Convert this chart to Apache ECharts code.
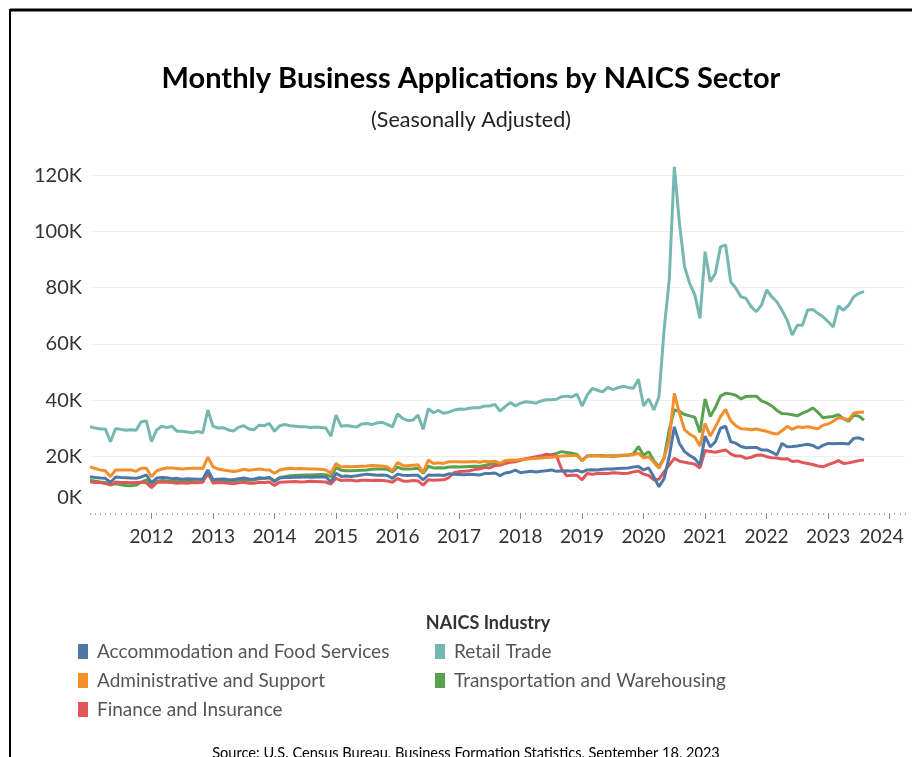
<!DOCTYPE html>
<html>
<head>
<meta charset="utf-8">
<script src="https://cdn.jsdelivr.net/npm/echarts@6/dist/echarts.min.js"></script>
<style>
  html, body { margin: 0; padding: 0; background: #fff; }
  #chart { width: 912px; height: 757px; }
</style>
</head>
<body>
<div id="chart"></div>
<script>
// monthly values, thousands of applications, Jan 2011 .. Aug 2023
const startYear = 2011;
const yearTicks = [2012, 2013, 2014, 2015, 2016, 2017, 2018, 2019, 2020, 2021, 2022, 2023, 2024];

const accommodation = [
  12.9, 12.6, 12.4, 12.3, 10.9, 12.8, 12.6, 12.5, 12.4, 12.3, 12.8, 13.5,
  10.8, 12.4, 12.6, 12.5, 12.2, 12.3, 12.0, 12.2, 12.1, 12.0, 12.1, 15.3,
  11.8, 12.0, 12.1, 11.9, 11.8, 12.2, 12.4, 12.1, 12.0, 12.5, 12.3, 12.6,
  11.2, 12.4, 12.6, 12.6, 12.8, 12.7, 12.9, 12.7, 12.8, 12.9, 12.8, 11.1,
  14.1, 13.0, 13.1, 13.0, 13.2, 13.5, 13.8, 13.6, 13.4, 13.5, 13.3, 12.3,
  13.8, 13.4, 13.3, 13.4, 13.4, 11.8, 13.5, 13.4, 13.5, 13.3, 13.9, 13.8,
  13.7, 13.6, 13.8, 13.7, 13.5, 14.0, 14.0, 14.2, 13.3, 14.2, 14.5, 15.2,
  14.3, 14.6, 14.8, 14.6, 14.8, 15.0, 15.3, 14.8, 14.9, 15.0, 14.8, 15.2,
  14.5, 15.3, 15.4, 15.3, 15.5, 15.6, 15.6, 15.8, 15.9, 16.0, 16.3, 16.5,
  15.3, 16.0, 12.8, 9.3, 12.2, 20.0, 30.6, 24.7, 21.8, 20.4, 19.3, 17.0,
  27.3, 23.5, 25.3, 30.1, 30.8, 25.3, 24.8, 23.6, 23.2, 23.3, 23.3, 22.4,
  22.4, 21.6, 20.6, 24.7, 23.5, 23.6, 23.8, 24.1, 24.4, 24.0, 23.0, 24.0,
  24.7, 24.6, 24.7, 24.7, 24.5, 26.5, 26.7, 26.0
];

const administrative = [
  16.4, 15.8, 15.3, 15.0, 12.9, 15.3, 15.3, 15.3, 15.3, 14.8, 15.9, 15.9,
  12.9, 15.0, 15.6, 16.0, 16.0, 15.8, 15.6, 15.8, 15.9, 15.9, 15.8, 19.8,
  16.4, 15.6, 15.3, 15.0, 14.7, 15.0, 15.5, 15.2, 15.4, 15.6, 15.4, 15.3,
  14.1, 15.3, 15.6, 15.9, 15.7, 15.8, 15.7, 15.6, 15.6, 15.5, 15.3, 14.1,
  17.6, 16.3, 16.5, 16.4, 16.5, 16.6, 16.7, 16.9, 16.8, 16.7, 16.4, 15.0,
  17.9, 16.9, 16.8, 17.0, 17.1, 14.4, 18.8, 17.6, 17.8, 17.6, 18.2, 18.2,
  18.2, 18.1, 18.2, 18.3, 18.0, 18.4, 18.2, 18.4, 17.6, 18.6, 18.8, 18.7,
  18.9, 19.2, 19.3, 19.4, 19.5, 19.7, 19.8, 20.0, 20.2, 20.3, 20.4, 20.4,
  18.6, 20.4, 20.2, 20.3, 20.1, 20.3, 20.0, 20.4, 20.6, 20.5, 20.7, 21.2,
  19.6, 20.0, 18.0, 15.9, 19.5, 26.0, 42.5, 35.4, 29.5, 28.0, 27.0, 23.8,
  31.8, 27.3, 30.5, 34.2, 36.8, 32.7, 31.0, 29.9, 29.8, 29.6, 29.8, 29.4,
  29.0, 28.4, 28.0, 29.2, 30.8, 29.7, 30.6, 30.4, 30.6, 30.3, 29.9, 31.2,
  31.6, 32.6, 33.8, 33.6, 33.1, 35.5, 35.8, 35.9
];

const finance = [
  11.1, 10.8, 10.8, 10.5, 9.9, 11.0, 10.8, 10.8, 10.7, 10.8, 10.9, 10.7,
  9.0, 10.8, 11.0, 10.9, 10.8, 10.6, 10.7, 10.6, 10.8, 10.7, 10.9, 14.5,
  10.6, 10.8, 10.7, 10.6, 10.4, 10.7, 10.9, 10.6, 10.6, 10.9, 10.8, 11.0,
  9.8, 10.9, 11.0, 11.1, 11.2, 11.0, 11.1, 11.3, 11.2, 11.1, 11.0, 10.3,
  12.3, 11.5, 11.7, 11.6, 11.4, 11.6, 11.6, 11.5, 11.6, 11.5, 11.4, 10.9,
  12.2, 11.4, 11.3, 11.5, 11.4, 9.9, 11.8, 11.6, 11.7, 11.8, 12.6, 14.3,
  14.7, 14.8, 15.0, 15.4, 15.6, 16.2, 16.0, 16.8, 17.0, 17.6, 18.0, 18.2,
  18.7, 19.3, 19.6, 20.0, 20.3, 20.9, 20.6, 20.3, 15.6, 13.2, 13.4, 13.4,
  11.8, 14.0, 13.8, 14.0, 14.1, 14.0, 14.3, 14.2, 14.0, 14.1, 14.6, 14.9,
  13.8, 13.3, 11.8, 12.0, 14.6, 17.0, 19.4, 18.4, 18.0, 17.7, 17.3, 16.0,
  22.2, 21.8, 21.6, 22.0, 22.4, 21.0, 20.2, 20.2, 19.4, 19.8, 20.5, 20.6,
  20.0, 19.6, 19.5, 19.2, 19.3, 18.3, 18.5, 17.9, 17.6, 17.2, 16.7, 16.4,
  17.2, 17.8, 18.6, 17.6, 17.8, 18.2, 18.6, 18.8
];

const retail = [
  30.6, 30.2, 29.8, 29.8, 25.3, 30.0, 29.7, 29.4, 29.6, 29.4, 32.4, 32.7,
  25.3, 29.5, 30.8, 30.3, 30.8, 29.0, 29.0, 28.8, 28.5, 29.0, 28.5, 36.6,
  30.8, 30.2, 30.3, 29.5, 29.1, 30.5, 31.0, 29.8, 29.6, 31.2, 31.0, 31.8,
  29.0, 31.0, 31.4, 31.0, 30.8, 30.6, 30.6, 30.4, 30.5, 30.4, 30.2, 27.3,
  34.8, 30.8, 31.1, 30.8, 30.5, 31.6, 31.8, 31.4, 32.0, 32.2, 31.5, 30.6,
  35.2, 33.6, 32.8, 33.0, 34.8, 29.7, 37.0, 35.6, 36.4, 35.4, 35.8, 36.5,
  36.9, 36.8, 37.2, 37.4, 37.4, 38.0, 38.0, 38.6, 36.2, 37.8, 39.2, 38.0,
  39.0, 39.5, 39.3, 39.0, 39.8, 40.2, 40.2, 40.4, 41.3, 41.5, 41.2, 42.2,
  38.0, 41.9, 44.2, 43.6, 43.0, 44.6, 43.8, 44.5, 45.0, 44.6, 44.3, 47.5,
  38.0, 40.5, 36.6, 41.3, 65.0, 82.7, 122.9, 102.8, 87.4, 81.5, 77.4, 69.1,
  92.8, 82.1, 85.1, 94.5, 95.2, 82.1, 79.8, 76.8, 76.2, 73.2, 71.5, 73.8,
  79.2, 76.8, 75.0, 72.0, 68.5, 63.2, 66.7, 66.7, 72.1, 72.3, 70.9, 69.7,
  67.9, 66.1, 73.5, 72.0, 73.8, 76.8, 78.0, 78.6
];

const transportation = [
  11.6, 11.3, 11.0, 10.8, 10.2, 10.4, 10.0, 9.8, 9.7, 9.9, 11.0, 11.8,
  10.0, 11.2, 11.5, 11.4, 11.3, 11.3, 11.1, 11.2, 11.2, 11.0, 11.3, 13.8,
  11.0, 11.3, 11.4, 11.2, 11.3, 11.6, 11.8, 11.6, 11.7, 12.2, 12.3, 12.5,
  11.4, 12.6, 12.9, 13.2, 13.3, 13.4, 13.5, 13.5, 13.6, 13.7, 13.6, 12.9,
  16.1, 15.2, 15.0, 15.0, 15.1, 15.2, 15.3, 15.5, 15.6, 15.6, 15.5, 14.6,
  16.3, 15.6, 15.6, 15.7, 15.9, 14.1, 16.6, 16.0, 16.1, 16.0, 16.3, 16.4,
  16.3, 16.4, 16.5, 16.6, 16.5, 16.9, 17.3, 17.6, 17.0, 18.0, 18.4, 18.5,
  18.9, 19.2, 19.4, 19.6, 19.7, 20.2, 20.6, 21.2, 21.8, 21.5, 21.2, 20.8,
  18.6, 20.2, 20.3, 20.4, 20.4, 20.2, 20.3, 20.2, 20.4, 20.6, 21.0, 23.6,
  20.5, 21.8, 18.6, 16.4, 19.5, 29.5, 36.6, 36.0, 35.0, 34.5, 34.0, 28.6,
  40.5, 34.3, 37.5, 41.5, 42.5, 42.3, 41.8, 40.5, 41.4, 41.5, 41.5, 39.8,
  39.1, 38.0, 36.4, 35.3, 35.2, 34.9, 34.5, 35.5, 36.2, 37.3, 35.8, 33.8,
  34.1, 34.3, 34.9, 33.5, 32.6, 34.7, 34.4, 33.0
];

const seriesNames = [
  'Accommodation and Food Services',
  'Administrative and Support',
  'Finance and Insurance',
  'Retail Trade',
  'Transportation and Warehousing'
];
const seriesValues = [accommodation, administrative, finance, retail, transportation];
const colors = ['#4e79a7', '#f28e2b', '#e15759', '#76b7b2', '#59a14f'];

const FONT = 'Lato, "Open Sans", sans-serif';
const lastMonth = (2024 - startYear) * 12 + 3;
const yearTickMonths = yearTicks.map((y) => (y - startYear) * 12);

const chart = echarts.init(document.getElementById('chart'));

// draw order: retail first, accommodation last (on top)
const drawOrder = [3, 4, 2, 1, 0];

const legendBase = {
  orient: 'vertical',
  top: 637,
  icon: 'rect',
  itemWidth: 10,
  itemHeight: 15,
  itemGap: 10,
  selectedMode: false,
  textStyle: { fontFamily: FONT, fontSize: 19, color: '#555', padding: [0, 0, 0, 4] }
};

const option = {
  animation: false,
  backgroundColor: '#fff',
  color: colors,
  grid: { left: 90, right: 7, top: 161, bottom: 244 },
  legend: [
    Object.assign({ data: seriesNames.slice(0, 3), left: 73 }, legendBase),
    Object.assign({ data: seriesNames.slice(3), left: 430 }, legendBase)
  ],
  xAxis: [
    {
      // month ticks (dotted base line)
      type: 'value',
      position: 'bottom',
      min: 0,
      max: lastMonth,
      interval: 1,
      axisLine: { show: false },
      axisTick: { show: true, length: 2, lineStyle: { color: '#aaa', width: 1 } },
      axisLabel: { show: false },
      splitLine: { show: false }
    },
    {
      // year ticks and labels
      type: 'value',
      position: 'bottom',
      offset: 0,
      min: 0,
      max: lastMonth,
      interval: 12,
      axisLine: { show: false },
      axisTick: {
        show: true,
        length: 6,
        customValues: yearTickMonths,
        lineStyle: { color: '#888', width: 1 }
      },
      axisLabel: {
        customValues: yearTickMonths,
        margin: 14,
        fontFamily: FONT,
        fontSize: 19,
        color: '#333',
        formatter: (v) => {
          if (v % 12 !== 0 || v <= 0 || v > yearTickMonths[yearTickMonths.length - 1]) return '';
          const y = startYear + v / 12;
          return y === 2024 ? '{e|' + y + '}' : String(y);
        },
        rich: { e: { fontFamily: FONT, fontSize: 19, color: '#333', padding: [0, 16, 0, 0] } }
      },
      splitLine: { show: false }
    }
  ],
  yAxis: {
    type: 'value',
    min: 0,
    max: 125,
    interval: 20,
    axisLine: { show: false },
    axisTick: { show: false },
    axisLabel: {
      margin: 8,
      fontFamily: FONT,
      fontSize: 20,
      color: '#333',
      formatter: (v) => {
        if (v === 0) return '{z|0K}';
        return v % 20 === 0 ? v + 'K' : '';
      },
      rich: { z: { fontFamily: FONT, fontSize: 20, color: '#333', padding: [0, 0, 30, 0] } }
    },
    splitLine: {
      show: true,
      showMinLine: false,
      showMaxLine: false,
      lineStyle: { color: '#efefef', width: 1 }
    }
  },
  series: drawOrder.map((k) => ({
    name: seriesNames[k],
    type: 'line',
    xAxisIndex: 1,
    showSymbol: false,
    symbol: 'none',
    color: colors[k],
    lineStyle: { width: 3, color: colors[k] },
    emphasis: { disabled: true },
    data: seriesValues[k].map((v, i) => [i, v])
  })),
  graphic: [
    // frame
    { type: 'line', shape: { x1: 10, y1: 10, x2: 912, y2: 10 }, style: { stroke: '#000', lineWidth: 3 } },
    { type: 'line', shape: { x1: 10, y1: 9, x2: 10, y2: 757 }, style: { stroke: '#000', lineWidth: 2 } },
    {
      type: 'text', x: 471, y: 79,
      style: {
        text: 'Monthly Business Applications by NAICS Sector',
        font: 'bold 29px ' + FONT, fill: '#000', align: 'center', verticalAlign: 'middle'
      }
    },
    {
      type: 'text', x: 471, y: 120,
      style: {
        text: '(Seasonally Adjusted)',
        font: '21.5px ' + FONT, fill: '#222', align: 'center', verticalAlign: 'middle'
      }
    },
    {
      type: 'text', x: 488, y: 623,
      style: {
        text: 'NAICS Industry',
        font: 'bold 18px ' + FONT, fill: '#333', align: 'center', verticalAlign: 'middle'
      }
    },
    {
      type: 'text', x: 466, y: 753,
      style: {
        text: 'Source: U.S. Census Bureau, Business Formation Statistics, September 18, 2023',
        font: '14.6px ' + FONT, fill: '#000', align: 'center', verticalAlign: 'middle'
      }
    }
  ]
};

chart.setOption(option);
</script>
</body>
</html>
